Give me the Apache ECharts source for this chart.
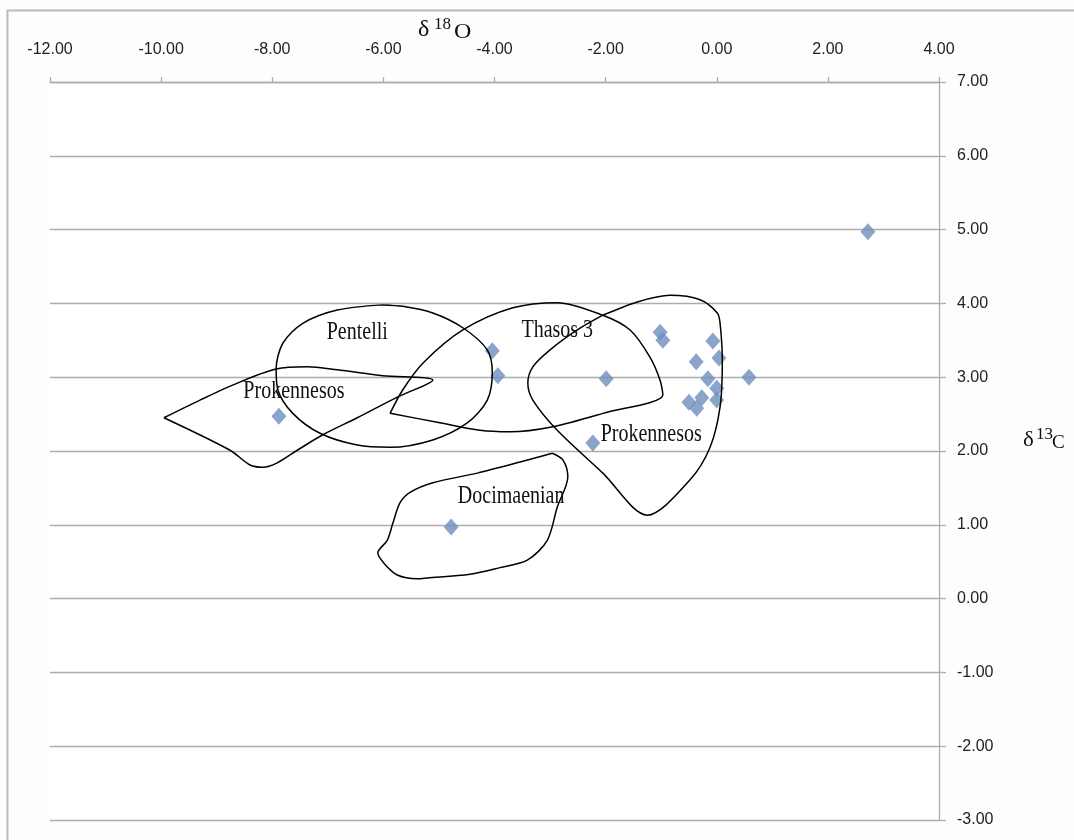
<!DOCTYPE html>
<html><head><meta charset="utf-8">
<script src="https://cdn.jsdelivr.net/npm/echarts@6/dist/echarts.min.js"></script>
<style>html,body{margin:0;padding:0;background:#fff;}#c{width:1074px;height:840px;}</style>
</head><body><div id="c"></div>
<script>
// sample points: [δ18O, δ13C]
const samples = [
  [2.72,4.97],[-7.88,2.47],[-4.04,3.36],[-3.94,3.02],[-1.99,2.98],[-2.23,2.11],[-4.78,0.97],
  [-1.02,3.61],[-0.97,3.50],[-0.07,3.49],[-0.37,3.21],[0.04,3.26],[-0.16,2.98],[0.00,2.85],
  [0.58,3.00],[-0.50,2.66],[-0.27,2.72],[-0.36,2.58],[0.00,2.69]
];
// hand-drawn field outlines (data units)
const pentelli = [
  [-6.01,3.98],[-6.83,3.91],[-7.45,3.73],[-7.81,3.46],[-7.93,3.11],[-7.90,2.83],[-7.63,2.51],
  [-7.14,2.24],[-6.47,2.08],[-5.88,2.05],[-5.11,2.15],[-4.49,2.38],[-4.13,2.69],[-4.04,3.06],
  [-4.13,3.37],[-4.57,3.67],[-5.11,3.87],[-5.65,3.96],[-6.01,3.98]
];
const prokLeft = [
  [-9.95,2.45],[-9.30,2.69],[-8.63,2.92],[-7.93,3.11],[-7.37,3.14],[-6.83,3.10],[-6.01,3.02],
  [-5.11,2.96],[-5.75,2.73],[-6.47,2.45],[-7.09,2.22],[-7.55,2.01],[-7.91,1.84],[-8.17,1.78],
  [-8.40,1.81],[-8.76,2.01],[-9.95,2.45]
];
const thasos = [
  [-5.88,2.51],[-5.65,2.83],[-5.29,3.19],[-4.57,3.64],[-3.67,3.94],[-2.87,4.01],[-2.05,3.84],
  [-1.56,3.64],[-1.20,3.27],[-1.02,2.96],[-0.97,2.76],[-2.05,2.51],[-2.95,2.33],[-3.72,2.26],
  [-4.26,2.28],[-5.03,2.39],[-5.88,2.51]
];
const prokRight = [
  [-2.05,3.84],[-1.43,4.02],[-0.84,4.11],[-0.30,4.05],[0.01,3.87],[0.06,3.73],[0.10,3.23],
  [0.06,2.60],[-0.12,2.05],[-0.48,1.61],[-1.25,1.13],[-2.05,1.70],[-2.87,2.28],[-3.31,2.69],
  [-3.40,2.92],[-3.31,3.14],[-3.00,3.37],[-2.51,3.64],[-2.05,3.84]
];
const docim = [
  [-2.96,1.97],[-2.77,1.88],[-2.68,1.65],[-2.87,1.24],[-3.05,0.79],[-3.41,0.52],[-3.90,0.42],
  [-4.44,0.33],[-5.21,0.28],[-5.39,0.27],[-5.75,0.32],[-5.99,0.48],[-6.10,0.62],[-5.93,0.79],
  [-5.83,1.02],[-5.70,1.30],[-5.52,1.44],[-5.11,1.57],[-4.31,1.70],[-3.54,1.85],[-2.96,1.97]
];
const fieldLabels = [
  [-6.47,3.60,'Pentelli'],[-7.61,2.81,'Prokennesos'],[-2.87,3.64,'Thasos 3'],
  [-1.18,2.23,'Prokennesos'],[-3.70,1.39,'Docimaenian']
];
const xMin = -12, xMax = 4, xStep = 2;
const yMin = -3, yMax = 7, yStep = 1;

const gray = '#ADADAD';
const serif = '"Liberation Serif", "Times New Roman", serif';
const chart = echarts.init(document.getElementById('c'), null, {renderer:'canvas'});

function outline(data){
  return {type:'line', data:data, smooth:0.3, showSymbol:false, symbol:'none',
    lineStyle:{color:'#000', width:1.5}, z:3, silent:true, animation:false};
}

chart.setOption({
  backgroundColor:'#fdfdfd',
  animation:false,
  grid:{left:50, right:135, top:82, bottom:20, backgroundColor:'#fff', show:true, borderWidth:0},
  xAxis:{type:'value', position:'top', min:xMin, max:xMax, interval:xStep,
    axisLine:{show:true, onZero:false, lineStyle:{color:gray, width:1.3}},
    axisTick:{show:true, inside:false, length:5, lineStyle:{color:gray, width:1.3}},
    splitLine:{show:false},
    axisLabel:{margin:24, fontSize:16, color:'#222', fontFamily:'"Liberation Sans", Arial, sans-serif',
      formatter:v=>v.toFixed(2)}
  },
  yAxis:{type:'value', position:'right', min:yMin, max:yMax, interval:yStep,
    axisLine:{show:true, onZero:false, lineStyle:{color:gray, width:1.3}},
    axisTick:{show:true, inside:false, length:7, lineStyle:{color:gray, width:1.3}},
    splitLine:{show:true, lineStyle:{color:gray, width:1.3}},
    axisLabel:{margin:18, align:'left', fontSize:16, color:'#222', fontFamily:'"Liberation Sans", Arial, sans-serif',
      formatter:v=>v.toFixed(2)}
  },
  graphic:[
    {type:'rect', left:5, top:8, shape:{width:1200, height:1000}, style:{fill:'none', stroke:'#BDB9B7', lineWidth:2}, z:-1},
    {type:'text', x:418, y:41, scaleY:0.95, style:{text:'δ', font:'24px '+serif, fill:'#111', verticalAlign:'bottom'}},
    {type:'text', x:434, y:33, scaleY:0.95, style:{text:'18', font:'17px '+serif, fill:'#111', verticalAlign:'bottom'}},
    {type:'text', x:454, y:43, scaleY:0.85, style:{text:'O', font:'24px '+serif, fill:'#111', verticalAlign:'bottom'}},
    {type:'text', x:1023, y:451, scaleY:0.95, style:{text:'δ', font:'23px '+serif, fill:'#111', verticalAlign:'bottom'}},
    {type:'text', x:1036, y:443, scaleY:0.95, style:{text:'13', font:'17px '+serif, fill:'#111', verticalAlign:'bottom'}},
    {type:'text', x:1052, y:452, scaleY:0.95, style:{text:'C', font:'19px '+serif, fill:'#111', verticalAlign:'bottom'}}
  ],
  series:[
    {type:'scatter', data:samples, symbol:'diamond', symbolSize:[15,17],
      itemStyle:{color:'#6E8FBD'}, z:2},
    outline(pentelli), outline(prokLeft), outline(thasos), outline(prokRight), outline(docim),
    {type:'custom', data:fieldLabels, encode:{x:0, y:1}, z:4,
      renderItem:function(params, api){
        const p = api.coord([api.value(0), api.value(1)]);
        return {type:'text', x:p[0], y:p[1], scaleY:1.25,
          style:{text:fieldLabels[params.dataIndex][2], font:'20px '+serif, fill:'#111',
            align:'center', verticalAlign:'middle'}};
      }}
  ]
});
</script></body></html>
